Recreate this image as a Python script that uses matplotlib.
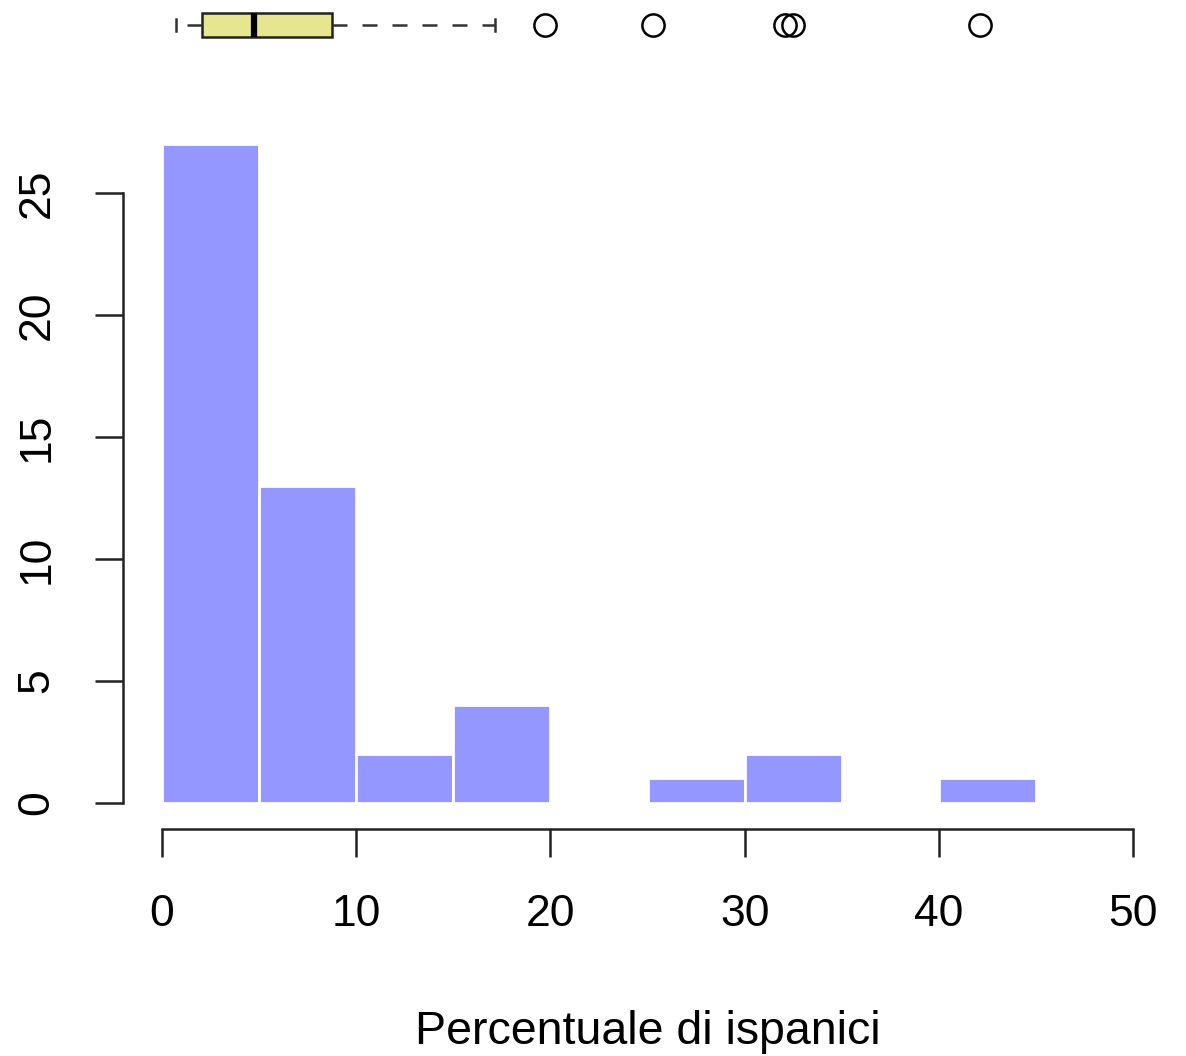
import matplotlib
matplotlib.use("Agg")
import matplotlib.pyplot as plt
import numpy as np

plt.rcParams['font.family'] = ['Liberation Sans', 'DejaVu Sans']

# dati
bin_edges = [0, 5, 10, 15, 20, 25, 30, 35, 40, 45]
counts = [27, 13, 2, 4, 0, 1, 2, 0, 1]
# boxplot: baffi, quartili, mediana, valori anomali
box_stats = {"whislo": 0.72, "q1": 2.06, "med": 4.74, "q3": 8.75,
             "whishi": 17.15,
             "fliers": [19.7, 25.3, 32.1, 32.5, 42.1]}
x_ticks = [0, 10, 20, 30, 40, 50]
y_ticks = [0, 5, 10, 15, 20, 25]

W, H = 1186, 1056
fig = plt.figure(figsize=(W / 100, H / 100), dpi=100)

# istogramma
ax = fig.add_axes([123 / W, 1 - 829 / H, (1172 - 123) / W, (829 - 118) / H])
ax.bar(bin_edges[:-1], counts, width=np.diff(bin_edges), align="edge",
       color="#9397ff", edgecolor="white", linewidth=2)
ax.set_xlim(-2, 52)
ax.set_ylim(-1.08, 28.08)
for s in ["top", "right"]:
    ax.spines[s].set_visible(False)
ax.spines["left"].set_bounds(0, 25)
ax.spines["bottom"].set_bounds(0, 50)
for s in ["left", "bottom"]:
    ax.spines[s].set_linewidth(1.8)
    ax.spines[s].set_color("#222222")
ax.set_xticks(x_ticks)
ax.set_yticks(y_ticks)
ax.tick_params(length=20, width=1.8, color="#222222", labelsize=32, pad=27)
plt.setp(ax.get_yticklabels(), rotation=90, va="center")
ax.set_xlabel("Percentuale di ispanici", fontsize=33.5, labelpad=54)

# boxplot orizzontale sopra
bx = fig.add_axes([123 / W, 1 - 50 / H, (1172 - 123) / W, 50 / H])
bx.bxp([box_stats], positions=[1], widths=0.48, vert=False, patch_artist=True,
       boxprops=dict(facecolor="#e6e690", edgecolor="#222222", linewidth=1.8),
       medianprops=dict(color="black", linewidth=4.5),
       whiskerprops=dict(color="#333333", linewidth=1.8, linestyle=(0, (6, 6))),
       capprops=dict(color="#333333", linewidth=1.8),
       flierprops=dict(marker="o", markersize=16, markerfacecolor="none",
                       markeredgecolor="black", markeredgewidth=1.8))
bx.set_xlim(-2, 52)
bx.set_ylim(0.5, 1.5)
bx.axis("off")

fig.savefig("out.png", dpi=100)
